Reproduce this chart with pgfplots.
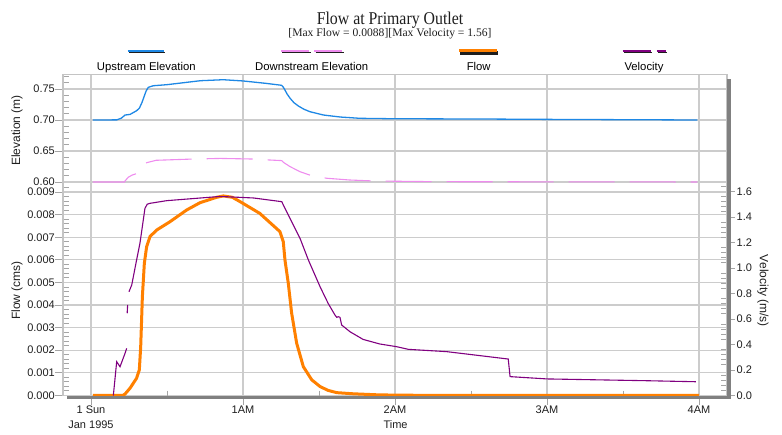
\documentclass[border=0pt]{standalone}
\usepackage{fontspec}
\setmainfont{Liberation Sans}
\newfontfamily\titlefont{Liberation Serif}
\usepackage{graphicx}
\usepackage{pgfplots}
\pgfplotsset{compat=1.18}
\definecolor{upblue}{RGB}{30,136,229}
\definecolor{downpink}{RGB}{238,140,238}
\definecolor{floworange}{RGB}{255,128,0}
\definecolor{velpurple}{RGB}{128,0,128}
\definecolor{gridgray}{RGB}{204,204,204}
\definecolor{framegray}{RGB}{196,196,196}
\definecolor{shadowgray}{RGB}{128,128,128}
\definecolor{tickgray}{RGB}{165,165,165}
\definecolor{labelblack}{RGB}{30,30,30}
\definecolor{legshadow}{RGB}{30,30,30}

\pgfplotsset{
 common/.style={
  scale only axis, width=664pt,
  xmin=-0.1842, xmax=4.1842,
  axis line style={draw=none},
  major grid style={draw=gridgray, line width=1.2pt},
  tick align=outside,
  major tick length=8pt,
  minor tick length=-6pt,
  tick style={draw=tickgray, line width=0.9pt},
  tick label style={font=\fontsize{11}{15}\selectfont, text=labelblack},
  label style={font=\fontsize{12}{14}\selectfont, text=labelblack},
  /pgf/number format/assume math mode=true,
  scaled y ticks=false,
  scaled x ticks=false,
  unbounded coords=jump,
 }
}

\begin{document}
\begin{tikzpicture}[x=1pt,y=1pt]
\path[use as bounding box] (0,0) rectangle (782,434);

% ---------- top panel: elevations ----------
\begin{axis}[common,
  at={(63pt,248pt)}, anchor=south west, height=111.3pt,
  ymin=0.5935, ymax=0.7731,
  grid=major, tick pos=left,
  xtick={0,1,2,3,4}, xticklabels={}, xtick style={draw=none},
  ytick={0.60,0.65,0.70,0.75}, yticklabels={0.60,0.65,0.70,0.75},
  minor ytick={0.61,0.62,0.63,0.64,0.66,0.67,0.68,0.69,0.71,0.72,0.73,0.74,0.76,0.77},
  yticklabel style={anchor=east, inner sep=0pt},
  ylabel={Elevation (m)},
  ylabel style={at={(axis description cs:-0.0693,0.5)}, anchor=center},
]
\addplot[upblue, line width=1.3pt] coordinates {
(0.013,0.7000) (0.17,0.7002) (0.20,0.7030) (0.224,0.7080) (0.257,0.7090)
(0.30,0.7150) (0.318,0.7190) (0.335,0.7280) (0.349,0.7376) (0.363,0.7470)
(0.377,0.7527) (0.41,0.7553) (0.50,0.7570) (0.72,0.7634) (0.87,0.7650)
(1.00,0.7630) (1.156,0.7590) (1.254,0.7560) (1.265,0.7530) (1.276,0.7484)
(1.29,0.7420) (1.31,0.7350) (1.335,0.7280) (1.364,0.7226) (1.40,0.7175)
(1.44,0.7134) (1.53,0.7080) (1.64,0.7048) (1.77,0.7027) (2.00,0.7020)
(2.56,0.7016) (3.00,0.7010) (3.50,0.7005) (3.99,0.7000)
};
\addplot[downpink, line width=1.1pt, dash pattern=on 46pt off 15pt] coordinates {
(0.013,0.6000) (0.22,0.6000) (0.224,0.6016) (0.245,0.6076) (0.27,0.6110)
(0.305,0.6140) (0.34,0.6235) (0.366,0.6311) (0.43,0.6350) (0.67,0.6370)
(0.85,0.6380) (1.07,0.6370) (1.17,0.6355) (1.254,0.6345) (1.27,0.6310)
(1.31,0.6247) (1.375,0.6166) (1.45,0.6102) (1.55,0.6060) (1.70,0.6032)
(1.86,0.6016) (2.25,0.6005) (3.00,0.6002) (3.99,0.6000)
};
\end{axis}

% ---------- bottom panel: flow ----------
\begin{axis}[common,
  at={(63pt,37.5pt)}, anchor=south west, height=210.5pt,
  ymin=-0.00005, ymax=0.00927,
  grid=major, tick pos=left,
  xtick={0,1,2,3,4},
  xticklabels={{1 Sun\\Jan 1995},1AM,2AM,3AM,4AM},
  xticklabel style={align=center, anchor=north, inner sep=0pt, yshift=-1pt},
  minor xtick={0.5,1.5,2.5,3.5},
  ytick={0,0.001,0.002,0.003,0.004,0.005,0.006,0.007,0.008,0.009},
  yticklabels={0.000,0.001,0.002,0.003,0.004,0.005,0.006,0.007,0.008,0.009},
  minor ytick={0.0002,0.0004,0.0006,0.0008,0.0012,0.0014,0.0016,0.0018,0.0022,0.0024,0.0026,0.0028,0.0032,0.0034,0.0036,0.0038,0.0042,0.0044,0.0046,0.0048,0.0052,0.0054,0.0056,0.0058,0.0062,0.0064,0.0066,0.0068,0.0072,0.0074,0.0076,0.0078,0.0082,0.0084,0.0086,0.0088,0.0092},
  yticklabel style={anchor=east, inner sep=0pt},
  ylabel={Flow (cms)},
  ylabel style={at={(axis description cs:-0.0693,0.5036)}, anchor=center},
  xlabel={Time},
  xlabel style={at={(axis description cs:0.5008,0)}, anchor=base, yshift=-32pt, font=\fontsize{11}{13}\selectfont},
]
\addplot[floworange, line width=3pt] coordinates {
(0.013,0) (0.21,0) (0.224,0.00006) (0.257,0.00032) (0.30,0.00076)
(0.318,0.00113) (0.327,0.00216) (0.338,0.00437) (0.351,0.00585) (0.366,0.00658)
(0.388,0.00703) (0.432,0.00732) (0.52,0.00769) (0.63,0.00821) (0.717,0.00853)
(0.827,0.00877) (0.87,0.00883) (0.93,0.00877) (0.98,0.00858) (1.11,0.00806)
(1.243,0.00725) (1.265,0.00680) (1.276,0.00600) (1.298,0.00496) (1.32,0.00364)
(1.353,0.00231) (1.397,0.00127) (1.452,0.00069) (1.507,0.00039) (1.56,0.00022)
(1.617,0.00012) (1.725,0.00007) (1.90,0.00002) (2.20,0) (4.00,0)
};
\end{axis}

% ---------- bottom panel: velocity (right axis) ----------
\begin{axis}[common,
  at={(63pt,37.5pt)}, anchor=south west, height=210.5pt,
  ymin=-0.0078, ymax=1.643,
  axis y line*=right, axis x line=none,
  ytick={0,0.2,0.4,0.6,0.8,1.0,1.2,1.4,1.6},
  yticklabels={0.0,0.2,0.4,0.6,0.8,1.0,1.2,1.4,1.6},
  minor ytick={0.04,0.08,0.12,0.16,0.24,0.28,0.32,0.36,0.44,0.48,0.52,0.56,0.64,0.68,0.72,0.76,0.84,0.88,0.92,0.96,1.04,1.08,1.12,1.16,1.24,1.28,1.32,1.36,1.44,1.48,1.52,1.56,1.64},
  yticklabel style={anchor=west, inner sep=0pt, xshift=1.5pt},
  ylabel={Velocity (m/s)},
  ylabel style={at={(axis description cs:1.0542,0.5012)}, anchor=center, rotate=180},
]
\addplot[velpurple, line width=1.1pt] coordinates {
(0.147,0.0) (0.169,0.265) (0.191,0.226) (0.224,0.331) (0.235,0.370)
(0.236,nan)
(0.238,0.645) (0.241,0.710)
(0.244,nan)
(0.250,0.814) (0.268,0.867) (0.30,1.063) (0.322,1.194) (0.355,1.468)
(0.370,1.500) (0.388,1.507) (0.498,1.528) (0.827,1.559) (0.87,1.560)
(1.07,1.549) (1.255,1.520) (1.275,1.470) (1.375,1.233) (1.43,1.063)
(1.507,0.853) (1.56,0.723) (1.605,0.631) (1.617,0.613) (1.627,0.618)
(1.638,0.613) (1.649,0.553) (1.704,0.500) (1.79,0.440) (1.90,0.404)
(2.01,0.383) (2.088,0.362) (2.34,0.344) (2.745,0.286) (2.757,0.148)
(3.00,0.130) (3.655,0.116) (3.98,0.108)
};
\end{axis}

% frame and drop shadow
\draw[framegray, line width=1.2pt] (63,38) -- (63,359.3) -- (727,359.3) -- (727,38);
\fill[shadowgray] (727.3,35) rectangle (731,355);
\fill[shadowgray] (67,35) rectangle (731,37.6);

% title
\node[anchor=base, inner sep=0pt, text=labelblack] at (390,409)
  {\scalebox{0.88}[1]{\titlefont\fontsize{18}{20}\selectfont Flow at Primary Outlet}};
\node[anchor=base, inner sep=0pt, text=labelblack] at (390,397)
  {\titlefont\fontsize{11.6}{13}\selectfont [Max Flow = 0.0088][Max Velocity = 1.56]};

% legend
\begin{scope}[font=\fontsize{11.3}{13}\selectfont]
\draw[legshadow, line width=1.8pt] (129,381.5) -- (165.3,381.5);
\draw[upblue, line width=1.8pt] (127.7,383.2) -- (164,383.2);
\node[anchor=base, inner sep=0pt] at (146.3,363.3) {Upstream Elevation};

\draw[legshadow, line width=1.8pt] (282.3,381.5) -- (310.6,381.5);
\draw[legshadow, line width=1.8pt] (315.6,381.5) -- (343.6,381.5);
\draw[downpink, line width=1.8pt] (281,383.2) -- (309.3,383.2);
\draw[downpink, line width=1.8pt] (314.3,383.2) -- (342.3,383.2);
\node[anchor=base, inner sep=0pt] at (311.7,363.3) {Downstream Elevation};

\draw[legshadow, line width=3.2pt] (460.3,381) -- (498,381);
\draw[floworange, line width=3.2pt] (459,383.2) -- (496.7,383.2);
\node[anchor=base, inner sep=0pt] at (478.7,363.3) {Flow};

\draw[legshadow, line width=1.8pt] (624,381.5) -- (652,381.5);
\draw[legshadow, line width=1.8pt] (658,381.5) -- (667.3,381.5);
\draw[velpurple, line width=1.8pt] (622.7,383.2) -- (650.7,383.2);
\draw[velpurple, line width=1.8pt] (656.7,383.2) -- (666,383.2);
\node[anchor=base, inner sep=0pt] at (644,363.3) {Velocity};
\end{scope}
\end{tikzpicture}
\end{document}
